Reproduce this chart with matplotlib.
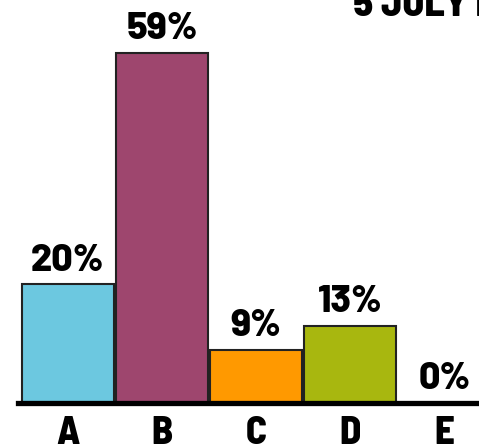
import matplotlib.pyplot as plt

categories = ['A', 'B', 'C', 'D', 'E']
shares = [20, 59, 9, 13, 0]
colors = ['#6cc8e0', '#9e466e', '#ff9900', '#a8b70f', '#cccccc']

plt.rcParams['font.family'] = ['Barlow Semi Condensed', 'DejaVu Sans']

fig = plt.figure(figsize=(4.79, 4.46), dpi=100)
# axes run past the right edge of the figure, so the last bar is clipped
ax = fig.add_axes([18 / 479, 43 / 446, 476 / 479, 403 / 446])

x = range(len(categories))
ax.bar(x, shares, width=0.98, color=colors, edgecolor='#222222', linewidth=1.5)

for xi, v in zip(x, shares):
    ax.annotate(f'{v}%', (xi, v), xytext=(0, 5), textcoords='offset points',
                ha='center', va='bottom', fontsize=27, fontweight=800,
                family=['Barlow', 'DejaVu Sans'])

ax.set_xlim(-0.53, 4.53)
ax.set_ylim(0, 68)
ax.set_xticks(list(x))
ax.set_xticklabels(categories, fontsize=28, fontweight=800)
ax.tick_params(axis='x', length=0, pad=9)
ax.set_yticks([])
for s in ['top', 'right', 'left']:
    ax.spines[s].set_visible(False)
ax.spines['bottom'].set_linewidth(3.8)
ax.spines['bottom'].set_color('black')

fig.text(353 / 479, 1 - 16 / 446, '5 JULY PROGRAMME', fontsize=29,
         fontweight=800, ha='left', va='baseline')

fig.savefig('out.png', dpi=100)
